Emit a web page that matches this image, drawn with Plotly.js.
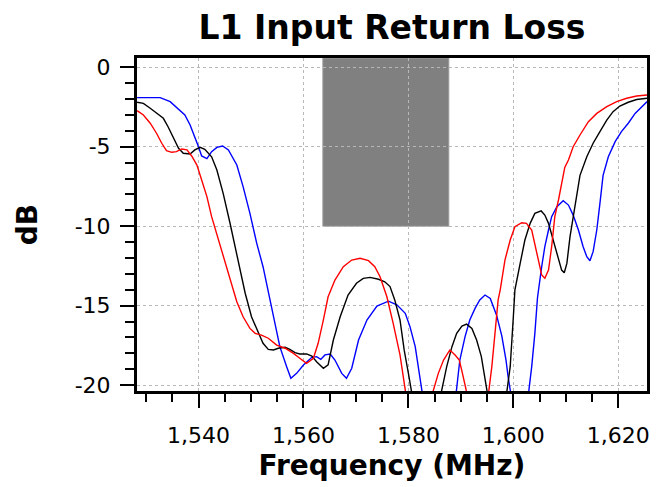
<!DOCTYPE html>
<html>
<head>
<meta charset="utf-8">
<script src="https://cdn.plot.ly/plotly-3.0.1.min.js"></script>
<style>html,body{margin:0;padding:0;background:#fff;}</style>
</head>
<body>
<div id="chart" style="width:668px;height:487px;"></div>
<script>
// ---- Data ----
const blueFreq = [1528.3,1530.5,1532.7,1534.6,1536.5,1537.4,1538.4,1539.3,1540.0,1540.6,1541.6,1542.5,1543.5,1544.6,1545.7,1547.3,1548.5,1549.8,1551.1,1552.3,1553.9,1555.5,1556.8,1557.6,1558.7,1560.0,1561.6,1562.5,1563.3,1564.1,1565.1,1566.0,1567.3,1568.2,1569.2,1570.5,1572.1,1574.0,1576.2,1577.8,1579.4,1580.3,1581.3,1581.9,1582.6,1585.5,1589.1,1589.8,1590.8,1591.7,1592.7,1593.6,1594.6,1595.6,1596.8,1597.8,1598.6,1599.0,1599.4,1601.2,1602.9,1603.5,1604.1,1604.6,1605.4,1606.0,1606.7,1607.3,1608.3,1609.5,1610.5,1611.4,1612.4,1613.3,1614.0,1614.6,1615.2,1615.9,1616.5,1617.1,1618.1,1619.4,1620.6,1621.9,1623.2,1624.5,1625.5];
const blueDb   = [-1.91,-1.91,-1.91,-2.16,-2.69,-3.0,-3.63,-4.37,-5.0,-5.58,-5.75,-5.31,-5.04,-4.95,-5.2,-6.15,-7.51,-9.19,-11.08,-12.55,-15.07,-17.58,-18.84,-19.57,-19.26,-18.73,-18.25,-18.21,-18.38,-18.1,-18.04,-18.42,-19.26,-19.57,-18.94,-17.16,-15.9,-15.02,-14.72,-14.95,-15.48,-16.32,-17.58,-18.84,-20.4,-25,-20.5,-18.42,-16.95,-15.9,-15.17,-14.64,-14.33,-14.55,-15.6,-16.9,-18.42,-19.47,-20.4,-24,-20.5,-18.84,-16.74,-14.5,-12.55,-11.29,-10.24,-9.4,-8.77,-8.4,-8.67,-9.3,-10.24,-11.29,-11.92,-12.17,-11.6,-10.24,-8.56,-6.8,-5.63,-4.68,-4.05,-3.52,-2.9,-2.48,-2.16];

const blackFreq = [1528.3,1529.5,1530.8,1532.0,1533.3,1534.2,1535.2,1536.2,1537.1,1538.4,1539.3,1540.3,1541.2,1542.5,1543.5,1544.7,1546.0,1547.3,1548.9,1550.1,1551.4,1552.3,1553.3,1554.3,1555.2,1556.5,1557.4,1558.4,1559.3,1560.6,1561.6,1562.5,1563.8,1564.7,1565.7,1567.0,1568.5,1570.1,1571.4,1572.7,1574.3,1575.5,1576.5,1577.4,1578.4,1579.2,1580.0,1580.6,1583.5,1586.3,1587.3,1588.3,1589.2,1590.2,1591.1,1592.1,1593.0,1593.9,1594.6,1595.0,1596.9,1598.8,1599.4,1600.0,1600.3,1601.3,1602.2,1603.2,1604.1,1605.3,1606.0,1606.7,1607.3,1607.9,1608.6,1609.2,1609.7,1610.2,1610.8,1611.4,1612.1,1612.7,1614.0,1615.2,1616.5,1617.8,1619.0,1620.3,1621.9,1623.5,1625.5];
const blackDb   = [-2.2,-2.27,-2.58,-2.9,-3.21,-3.74,-4.47,-5.1,-5.41,-5.46,-5.2,-5.04,-5.16,-5.63,-6.46,-7.93,-9.8,-11.7,-14.22,-15.7,-16.74,-17.37,-17.75,-17.79,-17.68,-17.62,-17.75,-17.96,-18.04,-18.04,-18.17,-18.53,-18.94,-18.73,-17.16,-15.7,-14.33,-13.59,-13.28,-13.22,-13.34,-13.5,-13.8,-14.64,-15.9,-17.8,-19.26,-20.4,-26,-20.4,-18.84,-17.58,-16.74,-16.28,-16.16,-16.43,-17.16,-18.21,-19.47,-20.4,-25,-20.4,-18.84,-15.7,-14.0,-12.34,-10.87,-9.82,-9.19,-9.04,-9.3,-9.82,-10.55,-11.29,-12.13,-12.76,-12.93,-12.34,-10.66,-9.4,-8.14,-6.8,-5.63,-4.78,-4.05,-3.32,-2.79,-2.44,-2.2,-2.03,-1.95];

const redFreq = [1528.3,1529.5,1530.8,1532.0,1533.0,1533.9,1534.9,1535.8,1536.8,1537.8,1538.7,1539.7,1540.6,1541.6,1542.5,1543.5,1544.7,1546.0,1547.3,1548.5,1549.8,1550.8,1552.0,1553.3,1554.9,1556.5,1558.1,1559.3,1560.6,1561.9,1562.8,1563.8,1564.7,1566.0,1567.6,1569.2,1570.8,1572.4,1573.6,1574.6,1575.9,1577.1,1578.4,1579.4,1582.0,1584.7,1585.7,1586.7,1587.9,1588.9,1589.7,1590.3,1591.0,1593.2,1595.4,1595.9,1596.5,1597.1,1597.5,1598.4,1599.4,1600.3,1601.6,1602.5,1603.5,1604.1,1604.8,1605.4,1606.0,1606.7,1607.3,1607.9,1608.6,1609.2,1609.8,1610.5,1611.4,1612.7,1614.3,1615.9,1617.8,1619.7,1621.6,1623.5,1625.5];
const redDb   = [-2.73,-3.0,-3.52,-4.15,-4.78,-5.25,-5.35,-5.31,-5.14,-5.2,-5.58,-6.15,-7.09,-8.14,-9.4,-10.5,-11.92,-13.39,-14.75,-15.7,-16.43,-16.74,-16.85,-17.05,-17.48,-17.68,-18.0,-18.31,-18.63,-18.31,-17.37,-15.9,-14.44,-13.39,-12.55,-12.13,-12.02,-12.17,-12.55,-13.18,-14.44,-16.11,-18.1,-20.3,-26,-20.4,-19.26,-18.42,-17.79,-18.1,-18.42,-19.26,-20.3,-26,-20.4,-18.84,-16.74,-14.64,-14.0,-12.13,-10.87,-10.03,-9.78,-9.82,-10.24,-11.08,-12.13,-13.07,-13.28,-12.76,-11.29,-9.4,-8.35,-7.3,-6.3,-5.83,-5.0,-4.26,-3.42,-2.9,-2.48,-2.16,-1.95,-1.81,-1.74];

// shaded band (MHz) and its dB extent
const bandFreq = [1563.7, 1587.7];
const bandDb = [-10, 0.585];

// axis ticks
const xTicks = [1540, 1560, 1580, 1600, 1620];
const xTickLabels = ['1,540', '1,560', '1,580', '1,600', '1,620'];
const xMinorTicks = [1530, 1535, 1545, 1550, 1555, 1565, 1570, 1575, 1585, 1590, 1595, 1605, 1610, 1615];
const yTicks = [0, -5, -10, -15, -20];
const yTickLabels = ['0', '-5', '-10', '-15', '-20'];
const yMinorTicks = [-1,-2,-3,-4,-6,-7,-8,-9,-11,-12,-13,-14,-16,-17,-18,-19];

const xRange = [1528.28, 1625.47];
const yRange = [-20.37, 0.585];

// ---- Chart ----
const FONT = 'DejaVu Sans, Verdana, sans-serif';
const lineW = 1.4;
const traces = [
  {x: blueFreq, y: blueDb, type: 'scatter', mode: 'lines', name: 'Blue', line: {color: '#0000ff', width: lineW}},
  {x: blackFreq, y: blackDb, type: 'scatter', mode: 'lines', name: 'Black', line: {color: '#000000', width: lineW}},
  {x: redFreq, y: redDb, type: 'scatter', mode: 'lines', name: 'Red', line: {color: '#ff0000', width: lineW}}
];

const axisCommon = {
  ticks: 'outside', ticklen: 14, tickwidth: 2, tickcolor: '#000',
  showline: true, linewidth: 3, linecolor: '#000', mirror: true,
  showgrid: true, gridcolor: '#b8b8b8', griddash: 'dot', gridwidth: 1,
  zeroline: false, automargin: false, fixedrange: true,
  tickfont: {family: FONT, size: 22, color: '#000'}
};

const layout = {
  width: 668, height: 487,
  margin: {l: 137, r: 21, t: 58, b: 96, pad: 0},
  paper_bgcolor: '#fff', plot_bgcolor: '#fff',
  showlegend: false,
  title: {
    text: 'L1 Input Return Loss',
    font: {family: FONT, size: 33, color: '#000', weight: 'bold'},
    xref: 'paper', x: 0.5, xanchor: 'center',
    yref: 'container', y: 0.968, yanchor: 'top'
  },
  xaxis: Object.assign({}, axisCommon, {
    range: xRange,
    tickmode: 'array', tickvals: xTicks, ticktext: xTickLabels,
    ticklabelstandoff: 9,
    minor: {tickmode: 'array', tickvals: xMinorTicks, ticks: 'outside', ticklen: 8, tickwidth: 2, tickcolor: '#000', showgrid: false},
    title: {text: 'Frequency (MHz)', font: {family: FONT, size: 28, color: '#000', weight: 'bold'}, standoff: 8}
  }),
  yaxis: Object.assign({}, axisCommon, {
    range: yRange,
    tickmode: 'array', tickvals: yTicks, ticktext: yTickLabels,
    ticklabelstandoff: 5,
    minor: {tickmode: 'array', tickvals: yMinorTicks, ticks: 'outside', ticklen: 9, tickwidth: 2, tickcolor: '#000', showgrid: false},
    title: {text: 'dB', font: {family: FONT, size: 28, color: '#000', weight: 'bold'}, standoff: 29}
  }),
  shapes: [{
    type: 'rect', xref: 'x', yref: 'y',
    x0: bandFreq[0], x1: bandFreq[1], y0: bandDb[0], y1: bandDb[1],
    fillcolor: '#808080', line: {color: '#9a9a9a', width: 1}, layer: 'below'
  }]
};

Plotly.newPlot('chart', traces, layout, {displayModeBar: false, staticPlot: true});
</script>
</body>
</html>
